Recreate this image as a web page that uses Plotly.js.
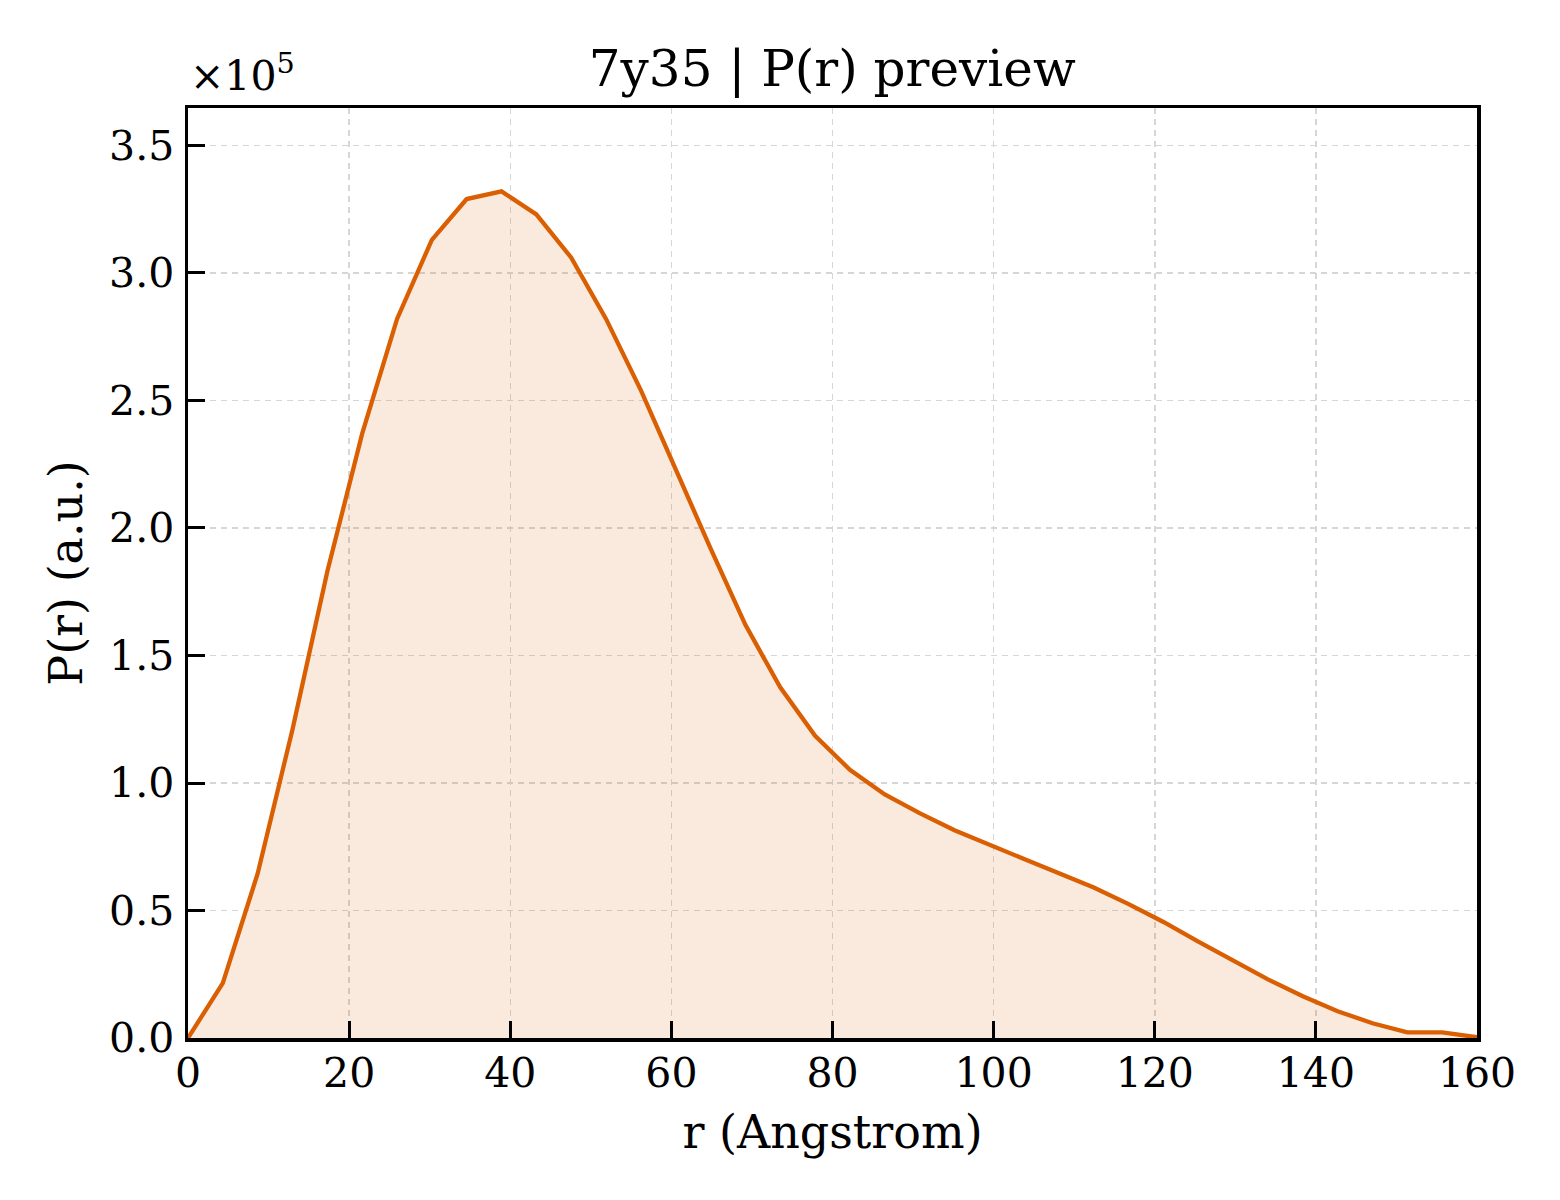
<!DOCTYPE html>
<html>
<head>
<meta charset="utf-8">
<script src="https://cdn.plot.ly/plotly-3.0.1.min.js"></script>
<style>
   body { margin: 0; background: #ffffff; }
   #chart { width: 1560px; height: 1200px; }
</style>
</head>
<body>
<div id="chart"></div>
<script>
const r_angstrom = [0, 4.32, 8.65, 12.97, 17.30, 21.62, 25.95, 30.27, 34.59, 38.92,
   43.24, 47.57, 51.89, 56.22, 60.54, 64.86, 69.19, 73.51, 77.84, 82.16,
   86.49, 90.81, 95.14, 99.46, 103.78, 108.11, 112.43, 116.76, 121.08, 125.41,
   129.73, 134.05, 138.38, 142.70, 147.03, 151.35, 155.68, 160.00];
const pr_e5 = [0, 0.215, 0.645, 1.21, 1.83, 2.37, 2.82, 3.13, 3.29, 3.32,
   3.23, 3.06, 2.82, 2.54, 2.23, 1.92, 1.62, 1.375, 1.185, 1.052,
   0.955, 0.882, 0.815, 0.757, 0.702, 0.646, 0.59, 0.525, 0.455, 0.378,
   0.303, 0.23, 0.164, 0.105, 0.058, 0.022, 0.022, 0.003];

const yTicks = [0, 0.5, 1.0, 1.5, 2.0, 2.5, 3.0, 3.5];
const xTicks = [0, 20, 40, 60, 80, 100, 120, 140, 160];

const lineColor = '#d95f02';
const serif = 'DejaVu Serif, Liberation Serif, serif';

function axisStyle(tickvals) {
   return {
      tickmode: 'array',
      tickvals: tickvals,
      ticks: 'inside',
      ticklen: 17,
      tickwidth: 3,
      tickcolor: '#000',
      showline: true,
      linecolor: '#000',
      linewidth: 3.5,
      mirror: true,
      showgrid: true,
      gridcolor: '#d6d6d6',
      gridwidth: 1.5,
      griddash: '6px,5px',
      zeroline: false,
      tickfont: {family: serif, size: 41, color: '#000'}
   };
}

const trace = {
   x: r_angstrom,
   y: pr_e5,
   mode: 'lines',
   fill: 'tozeroy',
   fillcolor: 'rgba(217,95,2,0.13)',
   line: {color: lineColor, width: 4.3},
   hoverinfo: 'skip'
};

const xaxis = Object.assign(axisStyle(xTicks), {
   range: [0, 160],
   ticklabelstandoff: -4,
   title: {text: 'r (Angstrom)', font: {family: serif, size: 46, color: '#000'}, standoff: 21}
});

const yaxis = Object.assign(axisStyle(yTicks), {
   range: [0, 3.647],
   tickformat: '.1f',
   ticklabelstandoff: 2,
   title: {text: 'P(r) (a.u.)', font: {family: serif, size: 46, color: '#000'}, standoff: 13}
});

const layout = {
   width: 1560,
   height: 1200,
   paper_bgcolor: '#ffffff',
   plot_bgcolor: '#ffffff',
   font: {family: serif, color: '#000'},
   margin: {l: 188, r: 83, t: 108, b: 162},
   showlegend: false,
   title: {
      text: '7y35 | P(r) preview',
      font: {family: serif, size: 50, color: '#000'},
      x: 0.5335, xanchor: 'center',
      y: 1 - 68 / 1200, yanchor: 'middle', yref: 'container'
   },
   xaxis: xaxis,
   yaxis: yaxis,
   annotations: [{
      text: '×10<sup>5</sup>',
      xref: 'paper', yref: 'paper',
      x: 0, y: 1, xanchor: 'left', yanchor: 'bottom',
      yshift: 6,
      showarrow: false,
      font: {family: serif, size: 41, color: '#000'}
   }]
};

Plotly.newPlot('chart', [trace], layout, {staticPlot: true});
</script>
</body>
</html>
